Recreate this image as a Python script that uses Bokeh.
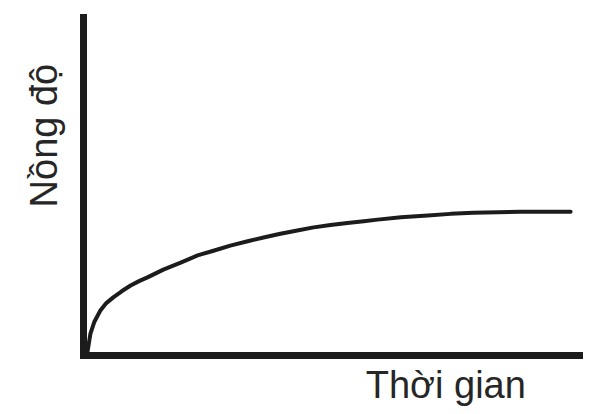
import math
from bokeh.plotting import figure
from bokeh.models import Range1d, Label
from bokeh.embed import file_html
from bokeh.resources import INLINE

# Data (arbitrary units)
time_vals = [0.8, 1.4, 2.2, 3.4, 4.6, 6.0, 7.7, 9.5, 11.2, 12.9, 16.1, 19.6, 23.0,
             26.2, 29.6, 33.1, 36.3, 39.7, 43.1, 46.4, 49.8, 53.2, 56.5, 59.3,
             64.0, 69.4, 74.0, 78.6, 88.1, 98.2]
conc_vals = [1.0, 6.5, 10.0, 13.3, 15.5, 17.2, 19.0, 20.7, 22.0, 23.1, 25.4, 27.5, 29.6,
             31.0, 32.5, 33.8, 34.9, 36.0, 37.0, 37.9, 38.6, 39.2, 39.7, 40.2,
             40.9, 41.4, 41.9, 42.2, 42.5, 42.5]
x_label = "Thời gian"
y_label = "Nồng độ"

INK = "#1c1c1c"

p = figure(width=613, height=414, output_backend="svg", toolbar_location=None,
           x_range=Range1d(-16.73, 106.85), y_range=Range1d(-17.46, 105.03),
           min_border=0)
p.outline_line_color = None
p.xgrid.visible = False
p.ygrid.visible = False
p.background_fill_color = "white"
p.border_fill_color = "white"

for ax in (p.xaxis[0], p.yaxis[0]):
    ax.fixed_location = 0
    ax.bounds = (0, 100)
    ax.ticker = []
    ax.major_tick_line_color = None
    ax.minor_tick_line_color = None
    ax.major_label_text_font_size = "0px"
    ax.major_label_standoff = 0
    ax.axis_line_width = 7
    ax.axis_line_color = INK
    ax.axis_line_cap = "square"

p.line(time_vals, conc_vals, line_width=4, line_color=INK, line_join="round", line_cap="round")

p.add_layout(Label(x=56.9, y=-8.8, text=x_label, text_font="Liberation Sans",
                   text_font_size="38px", text_color="#262626",
                   text_align="left", text_baseline="alphabetic"))
p.add_layout(Label(x=-8.0, y=43.8, text=y_label, text_font="Liberation Sans",
                   text_font_size="38px", text_color="#262626", angle=math.pi / 2,
                   text_align="left", text_baseline="alphabetic"))

open("out.html", "w").write(file_html(p, INLINE))
